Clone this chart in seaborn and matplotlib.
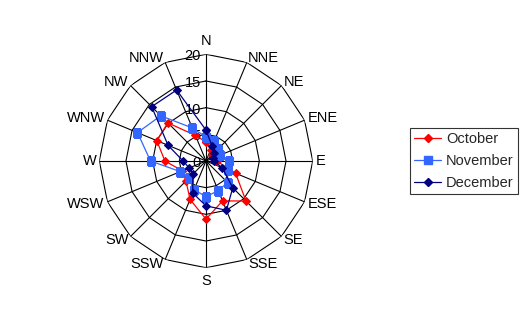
import numpy as np
import pandas as pd
import matplotlib
matplotlib.use("Agg")
import matplotlib.pyplot as plt
import seaborn as sns

directions = ["N", "NNE", "NE", "ENE", "E", "ESE", "SE", "SSE",
              "S", "SSW", "SW", "WSW", "W", "WNW", "NW", "NNW"]
october = [3.6, 2.3, 1.5, 1.8, 2.0, 6.0, 10.6, 8.1, 10.9, 7.8, 5.3, 4.8, 7.7, 10.0, 10.1, 5.2]
november = [4.5, 4.1, 3.2, 2.9, 4.3, 4.4, 5.7, 6.0, 6.7, 5.8, 4.6, 5.2, 10.4, 13.9, 12.0, 6.7]
december = [5.8, 3.0, 2.0, 1.5, 1.5, 3.3, 7.1, 10.0, 8.4, 6.5, 3.5, 3.4, 4.3, 7.7, 14.4, 14.4]
series_names = ["October", "November", "December"]
series_values = [october, november, december]
series_colors = ["#FF0000", "#3366FF", "#000080"]
series_markers = ["D", "s", "D"]
series_msize = [4.5, 5.5, 4.5]
radial_ticks = [0, 5, 10, 15, 20]

sns.set_theme(style="white")
plt.rcParams["font.family"] = ["Liberation Sans", "DejaVu Sans"]
FS = 10.5

W, H = 528, 323
fig = plt.figure(figsize=(W / 100, H / 100), dpi=100)
cx, cy, rad = 206, 161, 106.7
ax = fig.add_axes([(cx - rad) / W, (H - cy - rad) / H, 2 * rad / W, 2 * rad / H],
                  projection="polar")
ax.set_theta_zero_location("N")
ax.set_theta_direction(-1)
ax.set_ylim(0, 20)
ax.grid(False)
ax.spines["polar"].set_visible(False)
ax.set_xticks([])
ax.set_yticks([])
ax.patch.set_alpha(0)

n = len(directions)
theta = np.deg2rad(np.arange(n) * 360.0 / n)
theta_c = np.append(theta, 2 * np.pi)

# polygon grid
for r in radial_ticks[1:]:
    ax.plot(theta_c, [r] * (n + 1), color="black", lw=0.8, zorder=1)
for t in theta:
    ax.plot([t, t], [0, 20], color="black", lw=0.8, zorder=1)

# series
for name, vals, col, mk, ms in zip(series_names, series_values, series_colors,
                                   series_markers, series_msize):
    df = pd.DataFrame({"theta": theta_c, "value": list(vals) + [vals[0]]})
    sns.lineplot(data=df, x="theta", y="value", ax=ax, sort=False, color=col,
                 marker=mk, markersize=ms, markeredgecolor=col, lw=0.9,
                 label=name, zorder=3, legend=False)

ax.set_xlabel("")
ax.set_ylabel("")

# direction labels
for t, lab in zip(theta, directions):
    s, c = np.sin(t), np.cos(t)
    if abs(s) < 0.1:
        ha = "center"
        va = "bottom" if c > 0 else "top"
        off = (0, 6 * np.sign(c))
    else:
        ha = "left" if s > 0 else "right"
        va = "center"
        off = (3 * s, 5 * c)
    ax.annotate(lab, xy=(t, 20), xytext=off, textcoords="offset pixels",
                ha=ha, va=va, fontsize=FS, color="black", annotation_clip=False)

# radial tick labels
for v in radial_ticks:
    ax.annotate(str(v), xy=(0, v), xytext=(-5, -2), textcoords="offset pixels",
                ha="right", va="center", fontsize=FS, color="black",
                annotation_clip=False, zorder=2)

handles = [plt.Line2D([], [], color=c, marker=m, markersize=s, lw=0.9)
           for c, m, s in zip(series_colors, series_markers, series_msize)]
leg = fig.legend(handles, series_names, loc="center",
                 bbox_to_anchor=(464 / W, 1 - 161 / H), fontsize=FS,
                 frameon=True, fancybox=False, edgecolor="black",
                 handlelength=1.85, handletextpad=0.35, labelspacing=0.55,
                 borderpad=0.3, borderaxespad=0)
leg.get_frame().set_linewidth(0.8)

fig.savefig("out.png", dpi=100, facecolor="white")
